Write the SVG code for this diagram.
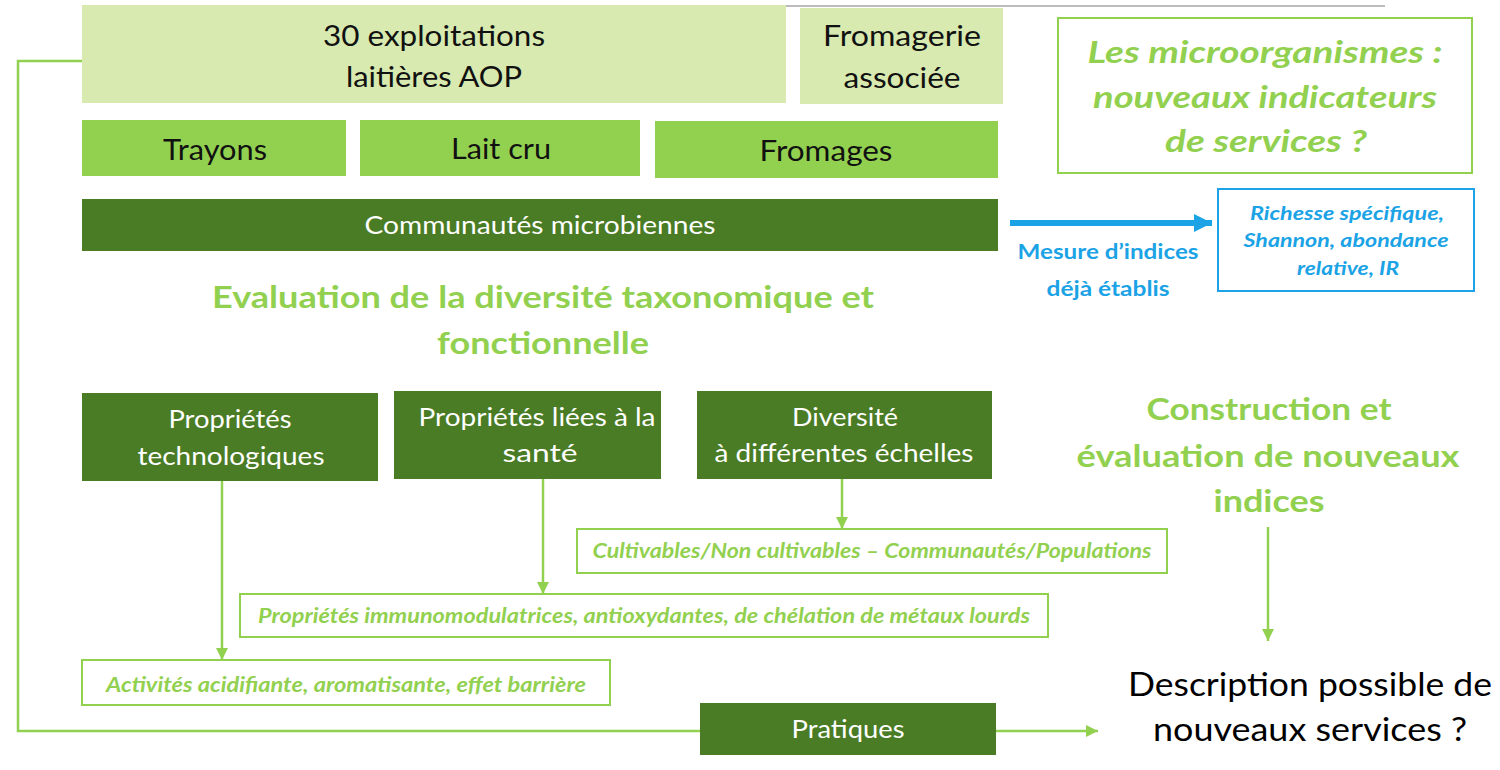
<svg xmlns="http://www.w3.org/2000/svg" width="1500" height="770" viewBox="0 0 1500 770">
<style>
text{font-family:Lato,"Open Sans","Liberation Sans",sans-serif;text-anchor:middle}
.lt{fill:#d8eaaf}
.md{fill:#92d050}
.dk{fill:#4a7c25}
.blk{fill:#111;font-size:29px}
.wh{fill:#fff;font-size:25px}
.gi{fill:#92d050;font-weight:bold;font-style:italic;font-size:20px}
.gb{fill:#92d050;font-weight:bold;font-size:31px}
.ob{fill:#fff;stroke:#92d050;stroke-width:2}
.conn{fill:none;stroke:#92d050;stroke-width:2.5}
</style>
<defs>
<marker id="ag" viewBox="0 0 10 10" refX="10" refY="5" markerWidth="5" markerHeight="5" markerUnits="strokeWidth" orient="auto"><path d="M0,0L10,5L0,10z" fill="#92d050"/></marker>
<marker id="ab" viewBox="0 0 10 10" refX="10" refY="5" markerWidth="3" markerHeight="3" markerUnits="strokeWidth" orient="auto"><path d="M0,0L10,5L0,10z" fill="#1ba3e6"/></marker>
</defs>
<rect width="1500" height="770" fill="#fff"/>
<line x1="786" y1="6" x2="1385" y2="6" stroke="#a6a6a6" stroke-width="1.5"/>

<g id="connectors">
<polyline class="conn" points="82,61 18,61 18,731 700,731"/>
<line class="conn" x1="996" y1="731" x2="1098" y2="731" marker-end="url(#ag)"/>
<line class="conn" x1="222" y1="481" x2="222" y2="660" marker-end="url(#ag)"/>
<line class="conn" x1="543" y1="479" x2="543" y2="594" marker-end="url(#ag)"/>
<line class="conn" x1="842" y1="479" x2="842" y2="529" marker-end="url(#ag)"/>
<line class="conn" x1="1268" y1="527" x2="1268" y2="641" marker-end="url(#ag)"/>
<line x1="1010" y1="223" x2="1212" y2="223" stroke="#1ba3e6" stroke-width="6" marker-end="url(#ab)"/>
</g>

<g id="exploitations"><rect class="lt" x="82" y="5" width="704" height="98"/>
<text class="blk" x="434" y="46" textLength="222" lengthAdjust="spacingAndGlyphs">30 exploitations</text>
<text class="blk" x="434" y="87" textLength="176" lengthAdjust="spacingAndGlyphs">laitières AOP</text></g>

<g id="fromagerie"><rect class="lt" x="800" y="8" width="203" height="96"/>
<text class="blk" x="902" y="46" textLength="158" lengthAdjust="spacingAndGlyphs">Fromagerie</text>
<text class="blk" x="902" y="88" textLength="117" lengthAdjust="spacingAndGlyphs">associée</text></g>

<g id="trayons"><rect class="md" x="82" y="120" width="264" height="56"/>
<text class="blk" x="215" y="160" textLength="104" lengthAdjust="spacingAndGlyphs">Trayons</text></g>
<g id="laitcru"><rect class="md" x="360" y="120" width="280" height="56"/>
<text class="blk" x="501" y="159" textLength="100" lengthAdjust="spacingAndGlyphs">Lait cru</text></g>
<g id="fromages"><rect class="md" x="655" y="121" width="343" height="57"/>
<text class="blk" x="826" y="161" textLength="133" lengthAdjust="spacingAndGlyphs">Fromages</text></g>

<g id="communautes"><rect class="dk" x="82" y="199" width="916" height="52"/>
<text class="wh" x="540" y="234" textLength="351" lengthAdjust="spacingAndGlyphs">Communautés microbiennes</text></g>

<g id="titre"><rect x="1058" y="18" width="414" height="155" fill="#fff" stroke="#92d050" stroke-width="2"/>
<text fill="#92d050" font-weight="bold" font-style="italic" font-size="31" x="1265" y="63" textLength="355" lengthAdjust="spacingAndGlyphs">Les microorganismes :</text>
<text fill="#92d050" font-weight="bold" font-style="italic" font-size="31" x="1265" y="108" textLength="344" lengthAdjust="spacingAndGlyphs">nouveaux indicateurs</text>
<text fill="#92d050" font-weight="bold" font-style="italic" font-size="31" x="1266" y="152" textLength="202" lengthAdjust="spacingAndGlyphs">de services ?</text></g>

<g id="mesure">
<text fill="#1ba3e6" font-weight="bold" font-size="21" x="1108" y="259" textLength="181" lengthAdjust="spacingAndGlyphs">Mesure d’indices</text>
<text fill="#1ba3e6" font-weight="bold" font-size="21" x="1108" y="296" textLength="123" lengthAdjust="spacingAndGlyphs">déjà établis</text></g>

<g id="indices-etablis"><rect x="1218" y="189" width="256" height="102" fill="#fff" stroke="#1ba3e6" stroke-width="2"/>
<text fill="#1ba3e6" font-weight="bold" font-style="italic" font-size="19" x="1347" y="220" textLength="194" lengthAdjust="spacingAndGlyphs">Richesse spécifique,</text>
<text fill="#1ba3e6" font-weight="bold" font-style="italic" font-size="19" x="1346" y="247" textLength="205" lengthAdjust="spacingAndGlyphs">Shannon, abondance</text>
<text fill="#1ba3e6" font-weight="bold" font-style="italic" font-size="19" x="1348" y="275" textLength="102" lengthAdjust="spacingAndGlyphs">relative, IR</text></g>

<g id="evaluation">
<text class="gb" x="543" y="308" textLength="662" lengthAdjust="spacingAndGlyphs">Evaluation de la diversité taxonomique et</text>
<text class="gb" x="543" y="354" textLength="212" lengthAdjust="spacingAndGlyphs">fonctionnelle</text></g>

<g id="prop-techno"><rect class="dk" x="82" y="393" width="296" height="88"/>
<text class="wh" x="230" y="428" textLength="123" lengthAdjust="spacingAndGlyphs">Propriétés</text>
<text class="wh" x="231" y="465" textLength="187" lengthAdjust="spacingAndGlyphs">technologiques</text></g>

<g id="prop-sante"><rect class="dk" x="394" y="391" width="267" height="88"/>
<text class="wh" x="537" y="426" textLength="237" lengthAdjust="spacingAndGlyphs">Propriétés liées à la</text>
<text class="wh" x="540" y="462" textLength="75" lengthAdjust="spacingAndGlyphs">santé</text></g>

<g id="diversite"><rect class="dk" x="697" y="391" width="295" height="88"/>
<text class="wh" x="845" y="426" textLength="106" lengthAdjust="spacingAndGlyphs">Diversité</text>
<text class="wh" x="844" y="462" textLength="259" lengthAdjust="spacingAndGlyphs">à différentes échelles</text></g>

<g id="construction">
<text class="gb" x="1269" y="420" textLength="245" lengthAdjust="spacingAndGlyphs">Construction et</text>
<text class="gb" x="1268" y="467" textLength="383" lengthAdjust="spacingAndGlyphs">évaluation de nouveaux</text>
<text class="gb" x="1269" y="512" textLength="111" lengthAdjust="spacingAndGlyphs">indices</text></g>

<g id="cultivables"><rect class="ob" x="577" y="529" width="590" height="44"/>
<text class="gi" x="872" y="558" textLength="559" lengthAdjust="spacingAndGlyphs">Cultivables/Non cultivables – Communautés/Populations</text></g>

<g id="immuno"><rect class="ob" x="240" y="594" width="808" height="43"/>
<text class="gi" x="644" y="623" textLength="772" lengthAdjust="spacingAndGlyphs">Propriétés immunomodulatrices, antioxydantes, de chélation de métaux lourds</text></g>

<g id="activites"><rect class="ob" x="82" y="660" width="528" height="45"/>
<text class="gi" x="346" y="692" textLength="480" lengthAdjust="spacingAndGlyphs">Activités acidifiante, aromatisante, effet barrière</text></g>

<g id="pratiques"><rect class="dk" x="700" y="703" width="296" height="52"/>
<text class="wh" x="848" y="738" textLength="113" lengthAdjust="spacingAndGlyphs">Pratiques</text></g>

<g id="description">
<text fill="#000" font-size="33" x="1310" y="696" textLength="364" lengthAdjust="spacingAndGlyphs">Description possible de</text>
<text fill="#000" font-size="33" x="1310" y="741" textLength="314" lengthAdjust="spacingAndGlyphs">nouveaux services ?</text></g>
</svg>
